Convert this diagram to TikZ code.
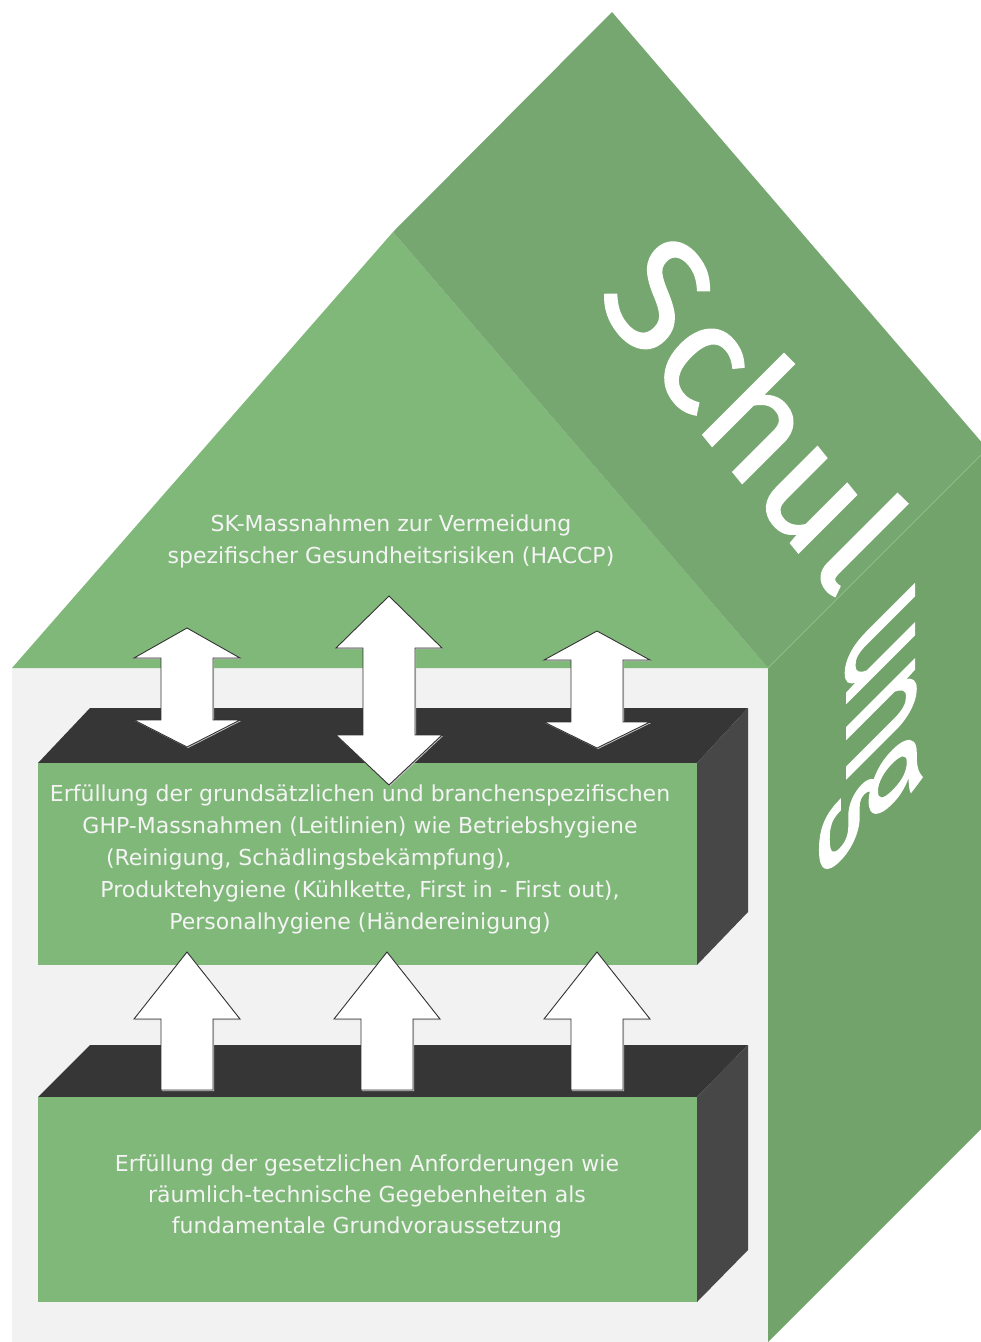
\documentclass[tikz,border=0pt]{standalone}
\usepackage{fontspec}
\setmainfont{DejaVu Sans}
\newfontfamily\bigfont[FakeBold=1.2]{Fira Sans}
\definecolor{roofL}{HTML}{80B87A}
\definecolor{roofS}{HTML}{76A770}
\definecolor{wallS}{HTML}{72A36A}
\definecolor{seam}{HTML}{8EBE88}
\definecolor{wallG}{HTML}{F2F2F2}
\definecolor{boxTop}{HTML}{363636}
\definecolor{boxSide}{HTML}{474747}
\definecolor{txt}{HTML}{F4F4F4}
\newcommand\UpArr[4]{%
  \path[shadowarr] (#1,#2) -- (#1+53,#3) -- (#1+26,#3) -- (#1+26,#4) -- (#1-26,#4) -- (#1-26,#3) -- (#1-53,#3) -- cycle;
  \path[arr] (#1,#2) -- (#1+53,#3) -- (#1+26,#3) -- (#1+26,#4) -- (#1-26,#4) -- (#1-26,#3) -- (#1-53,#3) -- cycle;}
\newcommand\DblArr[5]{%
  \path[shadowarr] (#1,#2) -- (#1+53,#3) -- (#1+26,#3) -- (#1+26,#4) -- (#1+53,#4) -- (#1,#5) -- (#1-53,#4) -- (#1-26,#4) -- (#1-26,#3) -- (#1-53,#3) -- cycle;
  \path[arr] (#1,#2) -- (#1+53,#3) -- (#1+26,#3) -- (#1+26,#4) -- (#1+53,#4) -- (#1,#5) -- (#1-53,#4) -- (#1-26,#4) -- (#1-26,#3) -- (#1-53,#3) -- cycle;}
\begin{document}
\begin{tikzpicture}[x=1pt,y=-1pt,
  arr/.style={fill=white, draw=black!80, line width=0.9pt, line join=miter},
  shadowarr/.style={fill=black!22, draw=none, xshift=1pt, yshift=-1pt},
  lbl/.style={text=txt, align=center, font=\fontsize{22}{32}\selectfont, inner sep=0pt},
  big/.style={text=white, inner sep=0pt, anchor=base west}]
\useasboundingbox (0,0) rectangle (981,1342);
\clip (0,0) rectangle (981,1342);
\fill[white] (0,0) rectangle (981,1342);
% house body
\fill[wallG] (12,668) rectangle (768,1350);
\fill[roofL] (12,668) -- (393,232) -- (768,668) -- cycle;
\fill[roofS] (393,232) -- (612,12) -- (990,452) -- (768,668) -- cycle;
\fill[wallS] (768,668) -- (990,446) -- (990,1120) -- (768,1342) -- cycle;
\draw[seam, line width=0.8pt] (768,668) -- (990,446);
% upper box
\fill[boxTop] (38,763) -- (90,708) -- (748,708) -- (697,763) -- cycle;
\fill[boxSide] (697,763) -- (748,708) -- (748,912) -- (697,965) -- cycle;
\fill[roofL] (38,763) rectangle (697,965);
% lower box
\fill[boxTop] (38,1097) -- (90,1045) -- (748,1045) -- (697,1097) -- cycle;
\fill[boxSide] (697,1097) -- (748,1045) -- (748,1250) -- (697,1302) -- cycle;
\fill[roofL] (38,1097) rectangle (697,1302);
% texts
\node[lbl] (sk) at (391,541) {SK-Massnahmen zur Vermeidung\\spezifischer Gesundheitsrisiken (HACCP)};
\node[lbl] (ghp) at (360,859) {Erfüllung der grundsätzlichen und branchenspezifischen\\GHP-Massnahmen (Leitlinien) wie Betriebshygiene\\\hbox to 508pt{(Reinigung, Schädlingsbekämpfung),\hfil}\\Produktehygiene (Kühlkette, First in - First out),\\Personalhygiene (Händereinigung)};
\node[lbl, font=\fontsize{22}{31}\selectfont] (ges) at (367,1196) {Erfüllung der gesetzlichen Anforderungen wie\\räumlich-technische Gegebenheiten als\\fundamentale Grundvoraussetzung};
\node[big, font=\bigfont\fontsize{155}{155}\selectfont, cm={0.629,-0.777,0.707,0.707,(0,0)}] (schul) at (594,300) {Schul};
\node[big, font=\bigfont\fontsize{128}{128}\selectfont, cm={0,-1,1,1,(0,0)}] (ung) at (847,640) {ung};
% arrows
\DblArr{187}{628}{658}{720}{747}
\DblArr{389}{596}{648}{735}{785}
\DblArr{597}{631}{660}{722}{748}
\UpArr{187}{952}{1019}{1090}
\UpArr{387}{952}{1019}{1090}
\UpArr{597}{952}{1019}{1090}
\end{tikzpicture}
\end{document}
